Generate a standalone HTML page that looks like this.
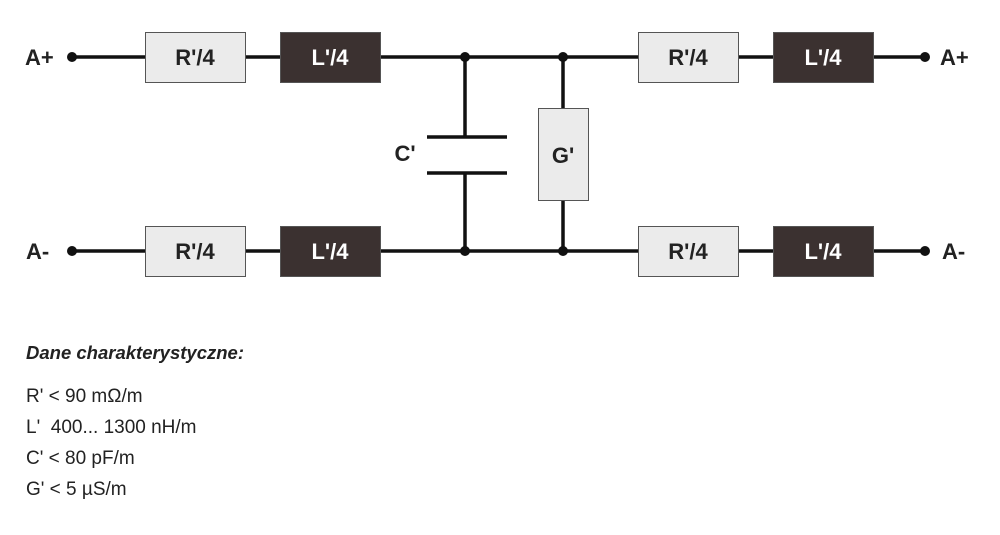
<!DOCTYPE html>
<html><head><meta charset="utf-8"><style>
body{margin:0;background:#fff;width:1000px;height:535px;overflow:hidden;font-family:"Liberation Sans",sans-serif}
.t{position:absolute;left:26px;font-size:19px;color:#222}
</style></head><body>
<svg width="1000" height="300" style="position:absolute;left:0;top:0" font-family="Liberation Sans" font-weight="bold">
<g stroke="#111" stroke-width="3.5" fill="none">
<line x1="72" y1="57" x2="925" y2="57"/>
<line x1="72" y1="251" x2="925" y2="251"/>
<line x1="465" y1="57" x2="465" y2="137"/>
<line x1="465" y1="173" x2="465" y2="251"/>
<line x1="427" y1="137" x2="507" y2="137"/>
<line x1="427" y1="173" x2="507" y2="173"/>
<line x1="563" y1="57" x2="563" y2="251"/>
</g>
<g fill="#111">
<circle cx="72" cy="57" r="5"/><circle cx="72" cy="251" r="5"/>
<circle cx="925" cy="57" r="5"/><circle cx="925" cy="251" r="5"/>
<circle cx="465" cy="57" r="5"/><circle cx="563" cy="57" r="5"/>
<circle cx="465" cy="251" r="5"/><circle cx="563" cy="251" r="5"/>
</g>
<g stroke="#555" stroke-width="1">
<rect x="145.5" y="32.5" width="100" height="50" fill="#ebebeb"/>
<rect x="145.5" y="226.5" width="100" height="50" fill="#ebebeb"/>
<rect x="638.5" y="32.5" width="100" height="50" fill="#ebebeb"/>
<rect x="638.5" y="226.5" width="100" height="50" fill="#ebebeb"/>
<rect x="280.5" y="32.5" width="100" height="50" fill="#3b3130"/>
<rect x="280.5" y="226.5" width="100" height="50" fill="#3b3130"/>
<rect x="773.5" y="32.5" width="100" height="50" fill="#3b3130"/>
<rect x="773.5" y="226.5" width="100" height="50" fill="#3b3130"/>
<rect x="538.5" y="108.5" width="50" height="92" fill="#ebebeb"/>
</g>
<g font-size="22" text-anchor="middle" fill="#222">
<text x="195" y="65">R'/4</text><text x="195" y="259">R'/4</text>
<text x="688" y="65">R'/4</text><text x="688" y="259">R'/4</text>
<text x="563" y="163">G'</text>
<text x="405" y="161">C'</text>
</g>
<g font-size="22" text-anchor="middle" fill="#fff">
<text x="330" y="65">L'/4</text><text x="330" y="259">L'/4</text>
<text x="823" y="65">L'/4</text><text x="823" y="259">L'/4</text>
</g>
<g font-size="22" fill="#222">
<text x="25" y="65">A+</text><text x="26" y="259">A-</text>
<text x="940" y="65">A+</text><text x="942" y="259">A-</text>
</g>
</svg>
<div class="t" style="top:342px;font-size:18.5px;font-weight:bold;font-style:italic">Dane charakterystyczne:</div>
<div class="t" style="top:386px">R' &lt; 90 mΩ/m</div>
<div class="t" style="top:417px">L'&nbsp; 400... 1300 nH/m</div>
<div class="t" style="top:448px">C' &lt; 80 pF/m</div>
<div class="t" style="top:479px">G' &lt; 5 µS/m</div>
</body></html>
